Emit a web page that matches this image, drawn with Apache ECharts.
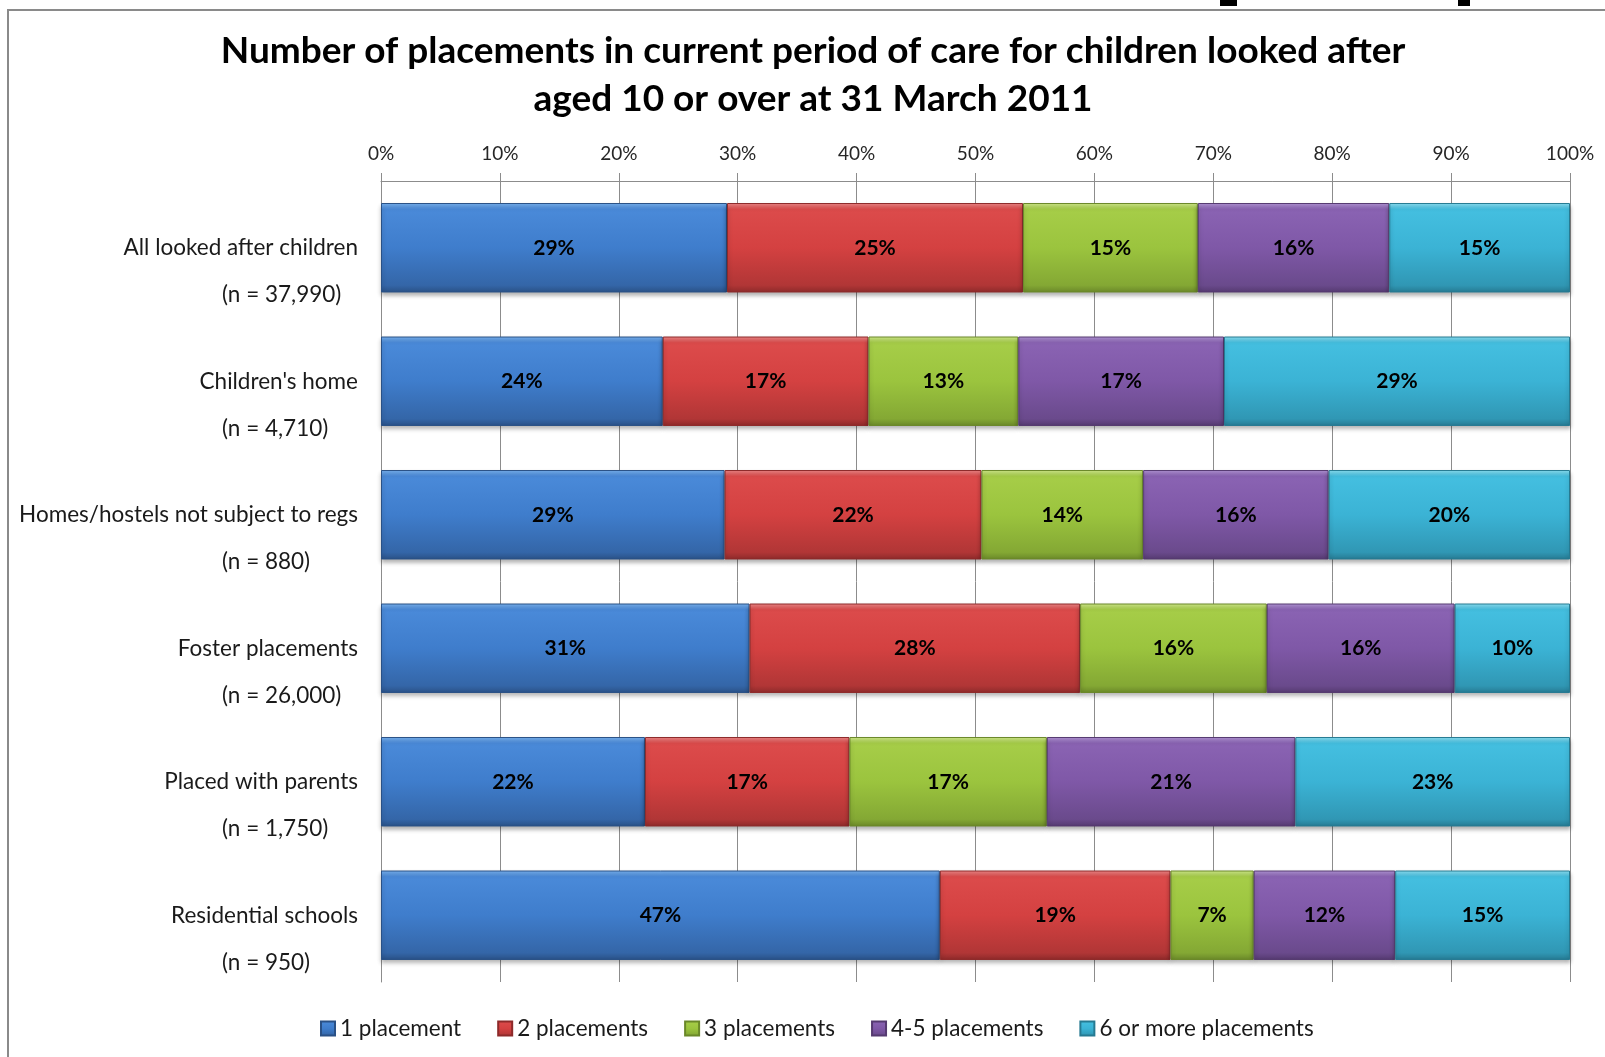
<!DOCTYPE html>
<html>
<head>
<meta charset="utf-8">
<title>Placements of children looked after</title>
<script src="https://cdn.jsdelivr.net/npm/echarts@6/dist/echarts.min.js"></script>
<style>
    html, body { margin: 0; padding: 0; background: #fff; }
    #chart { width: 1605px; height: 1057px; }
</style>
</head>
<body>
<div id="chart"></div>
<script>
// categories (top to bottom) and the sample size shown under each
var categories = ['All looked after children', "Children's home", 'Homes/hostels not subject to regs',
    'Foster placements', 'Placed with parents', 'Residential schools'];
var sampleSizes = ['(n = 37,990)', '(n = 4,710)', '(n = 880)', '(n = 26,000)', '(n = 1,750)', '(n = 950)'];
var seriesNames = ['1 placement', '2 placements', '3 placements', '4-5 placements', '6 or more placements'];

// percentage shares
var onePlacement       = [29.1, 23.7, 28.9, 31.0, 22.2, 47.0];
var twoPlacements      = [24.9, 17.3, 21.6, 27.8, 17.2, 19.4];
var threePlacements    = [14.7, 12.6, 13.6, 15.7, 16.6, 7.0];
var fourFivePlacements = [16.1, 17.3, 15.6, 15.8, 20.9, 11.9];
var sixPlusPlacements  = [15.2, 29.1, 20.3, 9.7, 23.1, 14.7];

var FONT = 'Lato';
var GRID_COLOR = '#8c8c8c';

// light top edge -> body -> dark bottom edge, like the old bevelled office bars
var palettes = [
    ['#7ab4f2', '#4a8ad9', '#3f7dcc', '#3466a8', '#2a5186'],
    ['#f08a8a', '#dc4b4b', '#d44141', '#b13636', '#8d2a2a'],
    ['#d2ec8e', '#a6cd48', '#9bc43e', '#84a834', '#6a8829'],
    ['#b497d8', '#8a63b3', '#7f58a7', '#6a4a8c', '#553a70'],
    ['#8fe2f5', '#44bfe0', '#3bb3d5', '#3097b4', '#267a92']
];

function bevel(p) {
    return {
        type: 'linear', x: 0, y: 0, x2: 0, y2: 1,
        colorStops: [
            { offset: 0, color: p[0] },
            { offset: 0.07, color: p[1] },
            { offset: 0.5, color: p[2] },
            { offset: 0.92, color: p[3] },
            { offset: 1, color: p[4] }
        ]
    };
}

var values = [onePlacement, twoPlacements, threePlacements, fourFivePlacements, sixPlusPlacements];

var series = values.map(function (v, i) {
    return {
        name: seriesNames[i],
        type: 'bar',
        stack: 'total',
        barCategoryGap: '33%',
        data: v,
        itemStyle: {
            color: bevel(palettes[i]),
            borderColor: palettes[i][4],
            borderWidth: 1,
            shadowColor: 'rgba(0,0,0,0.3)',
            shadowBlur: 4,
            shadowOffsetY: 3
        },
        label: {
            show: true,
            position: 'inside',
            formatter: function (p) { return Math.round(p.value) + '%'; },
            fontFamily: FONT,
            fontWeight: 'bold',
            fontSize: 21,
            color: '#000',
            textBorderWidth: 0
        },
        emphasis: { disabled: true }
    };
});

var myChart = echarts.init(document.getElementById('chart'));
var option = {
    animation: false,
    backgroundColor: '#fff',
    title: {
        text: 'Number of placements in current period of care for children looked after\naged 10 or over at 31 March 2011',
        left: 813,
        top: 27,
        textAlign: 'center',
        padding: 0,
        textStyle: {
            fontFamily: FONT,
            fontSize: 37,
            fontWeight: 'bold',
            color: '#000',
            lineHeight: 48
        }
    },
    legend: {
        data: seriesNames,
        left: 315,
        top: 1012,
        icon: 'rect',
        itemWidth: 14,
        itemHeight: 14,
        itemGap: 36,
        textStyle: { fontFamily: FONT, fontSize: 22.5, color: '#1a1a1a' }
    },
    grid: { left: 381, right: 35, top: 181, bottom: 75, outerBoundsMode: 'none' },
    xAxis: {
        type: 'value',
        position: 'top',
        min: 0,
        max: 100,
        interval: 10,
        axisLine: { show: true, lineStyle: { color: GRID_COLOR } },
        axisTick: { show: true, length: 8, lineStyle: { color: GRID_COLOR } },
        splitLine: { show: true, lineStyle: { color: GRID_COLOR } },
        axisLabel: { formatter: '{value}%', margin: 18, fontFamily: FONT, fontSize: 19, color: '#262626' }
    },
    yAxis: [{
        type: 'category',
        data: categories,
        inverse: true,
        axisLine: { lineStyle: { color: GRID_COLOR } },
        axisTick: { length: 8, lineStyle: { color: GRID_COLOR } },
        axisLabel: { interval: 0, margin: 23, fontFamily: FONT, fontSize: 22.5, color: '#1a1a1a' }
    }, {
        // second label column: the sample sizes, left aligned one line lower
        type: 'category',
        data: sampleSizes,
        inverse: true,
        position: 'left',
        axisLine: { show: false },
        axisTick: { show: false },
        splitLine: { show: false },
        axisLabel: {
            interval: 0,
            margin: 159,
            align: 'left',
            formatter: function (v) { return '{e| }\n{e| }\n{n|' + v + '}'; },
            rich: {
                e: { lineHeight: 47, fontSize: 22.5, fontFamily: FONT },
                n: { lineHeight: 47, fontSize: 22.5, fontFamily: FONT, color: '#1a1a1a' }
            }
        }
    }],
    graphic: [
        { type: 'rect', shape: { x: 8, y: 10, width: 1700, height: 1200 }, style: { fill: 'none', stroke: '#8a8a8a', lineWidth: 2 } },
        { type: 'rect', shape: { x: 1220, y: 0, width: 17, height: 6 }, style: { fill: '#000' } },
        { type: 'rect', shape: { x: 1458, y: 0, width: 12, height: 6 }, style: { fill: '#000' } }
    ],
    series: series
};
myChart.setOption(option);
</script>
</body>
</html>
